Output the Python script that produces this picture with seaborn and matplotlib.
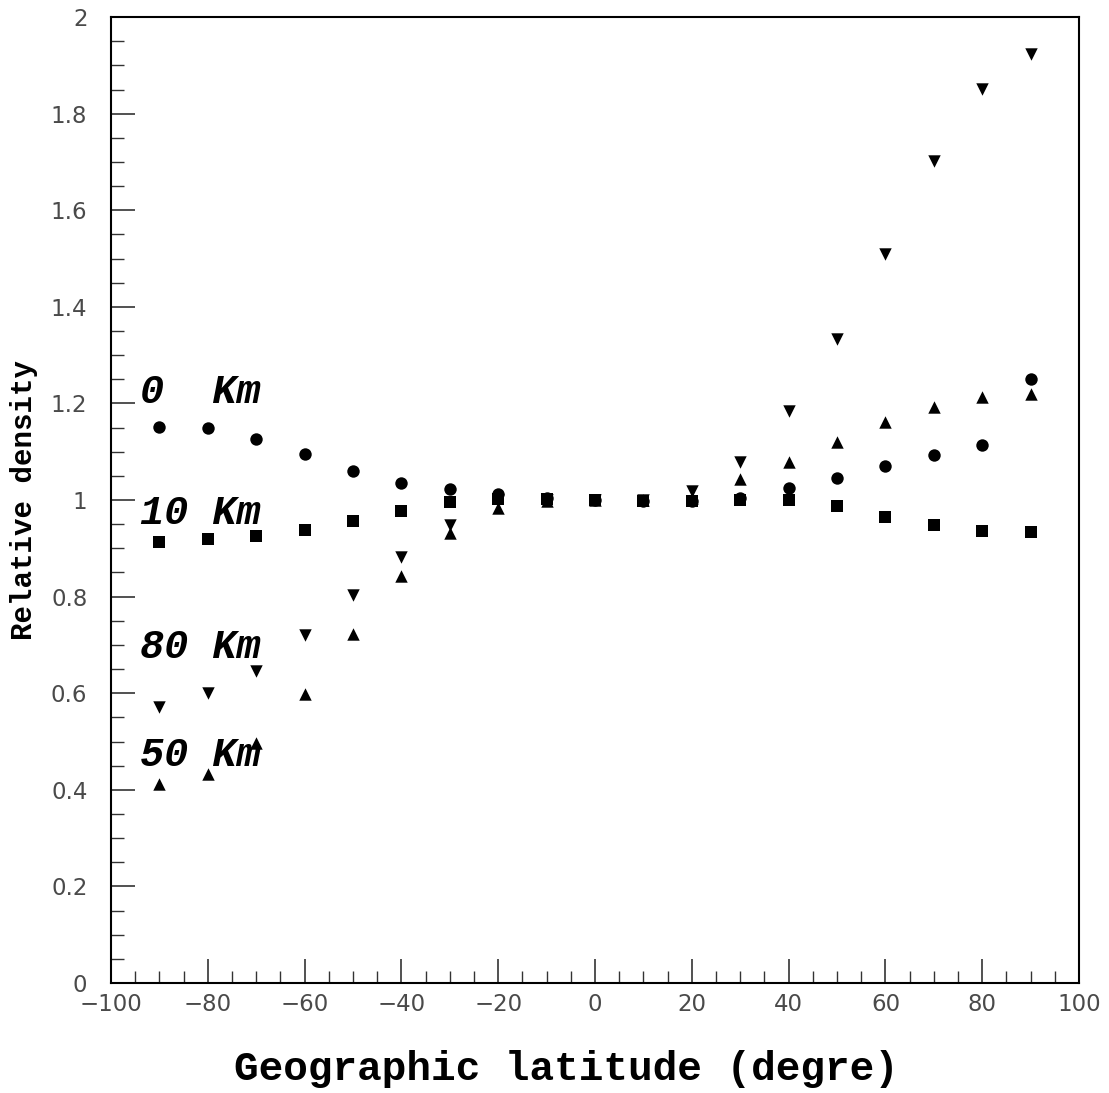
import numpy as np
import pandas as pd
import matplotlib
matplotlib.use("Agg")
import matplotlib.pyplot as plt
import seaborn as sns
from matplotlib.ticker import MultipleLocator, FuncFormatter

# ---- data ----
latitude = [-90, -80, -70, -60, -50, -40, -30, -20, -10, 0, 10, 20, 30, 40, 50, 60, 70, 80, 90]
dens_0km = [1.152, 1.149, 1.127, 1.095, 1.060, 1.036, 1.023, 1.012, 1.005, 1.000, 0.998, 0.998, 1.005,
            1.025, 1.046, 1.070, 1.093, 1.114, 1.250]
dens_10km = [0.914, 0.920, 0.925, 0.939, 0.956, 0.977, 0.996, 1.002, 1.003, 1.000, 0.997, 0.998, 1.001,
             1.000, 0.988, 0.965, 0.948, 0.936, 0.934]
dens_50km = [0.412, 0.433, 0.496, 0.598, 0.723, 0.843, 0.932, 0.983, 0.997, 1.000, 1.000, 1.005, 1.043,
             1.079, 1.121, 1.162, 1.193, 1.213, 1.219]
dens_80km = [0.572, 0.601, 0.647, 0.720, 0.803, 0.883, 0.948, 1.000, 1.000, 1.000, 1.000, 1.019, 1.079,
             1.185, 1.333, 1.510, 1.702, 1.852, 1.923]
series_names = ["0 Km", "10 Km", "50 Km", "80 Km"]
label_texts = ["0  Km", "10 Km", "80 Km", "50 Km"]
label_y = [1.224, 0.973, 0.696, 0.472]
x_label = "Geographic latitude (degre)"
y_label = "Relative density"

df = pd.DataFrame({
    "lat": latitude * 4,
    "dens": dens_0km + dens_10km + dens_50km + dens_80km,
    "alt": sum([[n] * len(latitude) for n in series_names], []),
})

sns.set_style("white")
plt.rcParams["text.color"] = "black"
plt.rcParams["axes.labelcolor"] = "black"
fig = plt.figure(figsize=(11.09, 10.93), dpi=100)
ax = fig.add_axes([0.1001, 0.1006, 0.8729, 0.8838])

markers = {"0 Km": "o", "10 Km": "s", "50 Km": "^", "80 Km": "v"}
sizes_map = {"0 Km": 80, "10 Km": 75, "50 Km": 80, "80 Km": 80}
for name in series_names:
    sub = df[df["alt"] == name]
    sns.scatterplot(data=sub, x="lat", y="dens", marker=markers[name], color="black",
                    s=sizes_map[name], linewidth=0, ax=ax, legend=False, zorder=3)

ax.set_xlim(-100, 100)
ax.set_ylim(0, 2)

def fmt(v, pos):
    s = "%g" % round(v, 6)
    return s.replace("-", "\u2212")

ax.xaxis.set_major_locator(MultipleLocator(20))
ax.xaxis.set_minor_locator(MultipleLocator(5))
ax.yaxis.set_major_locator(MultipleLocator(0.2))
ax.yaxis.set_minor_locator(MultipleLocator(0.05))
ax.yaxis.set_major_formatter(FuncFormatter(fmt))
ax.xaxis.set_major_formatter(FuncFormatter(fmt))

ax.tick_params(axis="both", which="major", direction="in", length=17, width=1.2,
               color="#333333", labelsize=16.5, bottom=True, left=True, top=False, right=False)
ax.tick_params(axis="both", which="minor", direction="in", length=9, width=1.0,
               color="#333333", bottom=True, left=True, top=False, right=False)
ax.tick_params(axis="x", which="major", pad=7)
ax.tick_params(axis="y", which="major", pad=17)
for lab in ax.get_xticklabels() + ax.get_yticklabels():
    lab.set_fontfamily("DejaVu Sans")
    lab.set_color("#4a4a4a")

for sp in ax.spines.values():
    sp.set_visible(True)
    sp.set_color("black")
    sp.set_linewidth(1.5)

ax.set_xlabel(x_label, fontsize=29.5, fontweight="bold", family="Liberation Mono", color="black")
ax.xaxis.set_label_coords(0.47, -0.069)
ax.set_ylabel(y_label, fontsize=21, fontweight="bold", family="Liberation Mono", labelpad=9,
              color="black")
ax.grid(False)

for t, yv in zip(label_texts, label_y):
    ax.text(-94, yv, t, fontsize=29, fontweight="bold", fontstyle="italic",
            family="Liberation Mono", ha="left", va="center", zorder=4, color="black")

fig.savefig("out.png", dpi=100, facecolor="white")
